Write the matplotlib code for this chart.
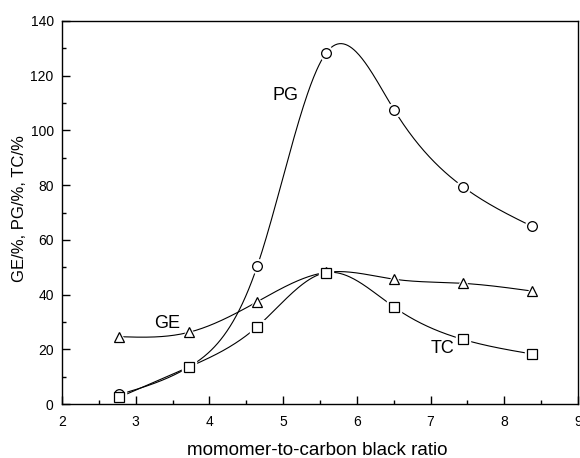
import numpy as np
import matplotlib
matplotlib.use("Agg")
import matplotlib.pyplot as plt
from matplotlib.ticker import MultipleLocator

plt.rcParams['font.family'] = ['Liberation Sans', 'DejaVu Sans']

ratio = [2.78, 3.72, 4.65, 5.58, 6.51, 7.44, 8.37]
pg = [3.5, 13.5, 50.5, 128.2, 107.3, 79.4, 65.0]
ge = [24.6, 26.2, 37.4, 48.1, 45.6, 44.1, 41.3]
tc = [2.5, 13.5, 28.3, 48.0, 35.3, 23.6, 18.3]


def natural_spline(x, y, n=400):
    x = np.asarray(x, float)
    y = np.asarray(y, float)
    m = len(x)
    h = np.diff(x)
    A = np.zeros((m, m))
    b = np.zeros(m)
    A[0, 0] = 1
    A[-1, -1] = 1
    for i in range(1, m - 1):
        A[i, i - 1] = h[i - 1]
        A[i, i] = 2 * (h[i - 1] + h[i])
        A[i, i + 1] = h[i]
        b[i] = 3 * ((y[i + 1] - y[i]) / h[i] - (y[i] - y[i - 1]) / h[i - 1])
    c = np.linalg.solve(A, b)
    xs = np.linspace(x[0], x[-1], n)
    idx = np.clip(np.searchsorted(x, xs) - 1, 0, m - 2)
    dx = xs - x[idx]
    bb = (y[idx + 1] - y[idx]) / h[idx] - h[idx] * (2 * c[idx] + c[idx + 1]) / 3
    dd = (c[idx + 1] - c[idx]) / (3 * h[idx])
    ys = y[idx] + bb * dx + c[idx] * dx ** 2 + dd * dx ** 3
    return xs, ys


fig = plt.figure(figsize=(5.8, 4.58), dpi=100)
ax = fig.add_axes([62 / 580, 1 - 404 / 458, (578 - 62) / 580, (404 - 21) / 458])

for series, mk in [(pg, 'o'), (ge, '^'), (tc, 's')]:
    xs, ys = natural_spline(ratio, series)
    ax.plot(xs, ys, color='black', lw=0.8, zorder=2)
    # white halo so the curve stops short of each marker
    ax.plot(ratio, series, linestyle='none', marker=mk, markersize=10,
            markerfacecolor='white', markeredgecolor='white', zorder=2.5)
    ax.plot(ratio, series, linestyle='none', marker=mk, markersize=7,
            markerfacecolor='white', markeredgecolor='black',
            markeredgewidth=0.9, zorder=3)

ax.text(4.86, 111.1, 'PG', fontsize=13, ha='left', va='baseline')
ax.text(3.42, 27.8, 'GE', fontsize=13, ha='center', va='baseline')
ax.text(7.16, 18.6, 'TC', fontsize=13, ha='center', va='baseline')

ax.set_xlim(2, 9)
ax.set_ylim(0, 140)
ax.xaxis.set_major_locator(MultipleLocator(1))
ax.xaxis.set_minor_locator(MultipleLocator(0.5))
ax.yaxis.set_major_locator(MultipleLocator(20))
ax.yaxis.set_minor_locator(MultipleLocator(10))
ax.tick_params(which='both', direction='in', top=False, right=False, labelsize=10)
ax.tick_params(which='major', length=6, width=1)
ax.tick_params(which='minor', length=3, width=1)
ax.tick_params(axis='x', which='both', pad=8)
ax.tick_params(axis='y', which='both', pad=6)
for s in ax.spines.values():
    s.set_linewidth(1)

ax.set_xlabel('momomer-to-carbon black ratio', fontsize=13.5, va='baseline')
ax.xaxis.set_label_coords(0.494, -0.133)
ax.set_ylabel('GE/%, PG/%, TC/%', fontsize=12)
ax.yaxis.set_label_coords(-0.068, 0.509)

fig.savefig('out.png', dpi=100)
